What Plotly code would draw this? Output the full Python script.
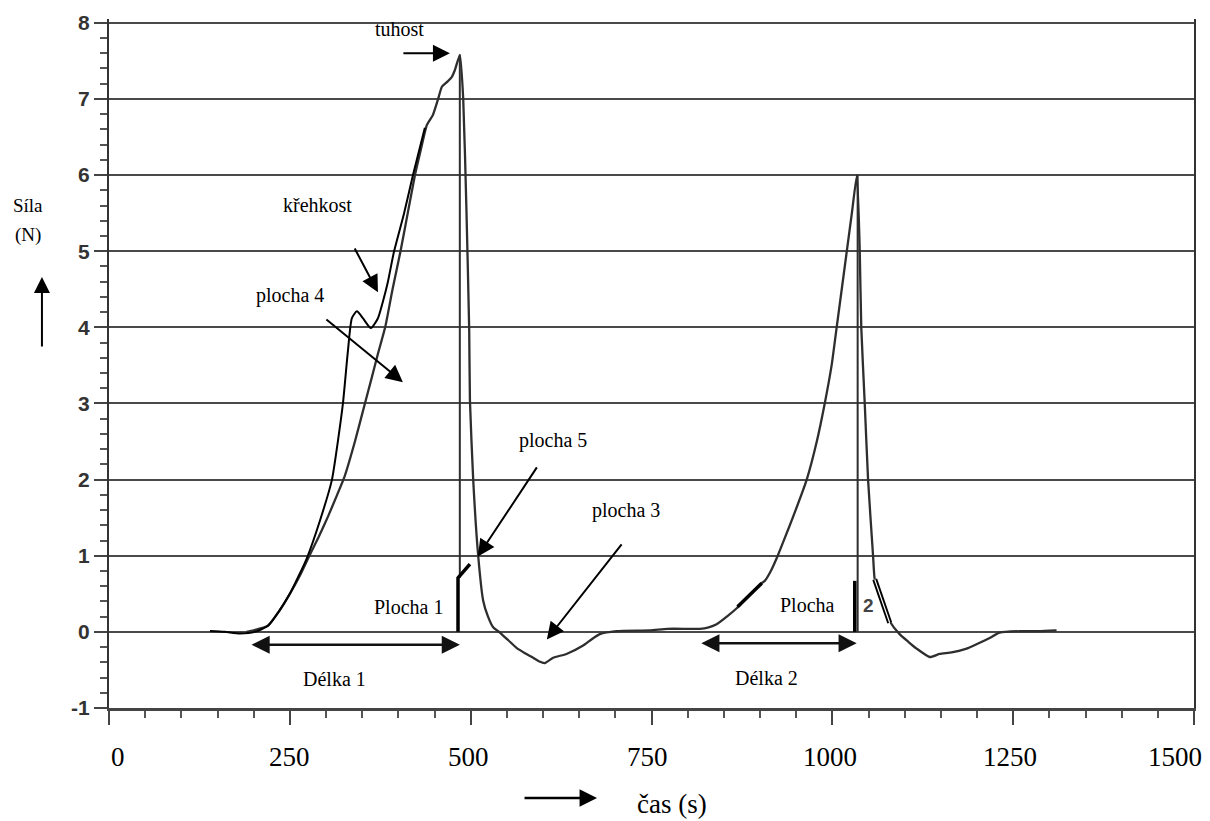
import plotly.graph_objects as go

# ---------------- data ----------------
# main recorded force curve (time s, force N)
main_t = [190, 200, 219.7, 235, 250, 264, 277, 290, 303, 314.5, 326, 340, 353.8, 363, 372,
          381.8, 392, 403, 413, 423, 431, 439.5, 447.8, 454.7, 460.2, 467, 474, 478.2, 485.1,
          489.7, 494, 498, 499, 503.5, 510.4, 517.3, 524, 531.1, 540.4, 552, 563.4, 575, 586.4,
          595, 602.5, 614, 632.5, 655.5, 667, 678.6, 701.6, 747.7, 772, 800, 816.8, 829, 840,
          855.4, 867.8, 885, 902.4, 906.6, 915, 924.5, 935, 945.3, 964.6, 978.5, 989.5, 999,
          1006, 1013, 1020, 1027, 1034, 1037.9, 1040, 1044.8, 1049.4, 1056.3, 1058.6, 1068,
          1079.3, 1093, 1105, 1116.6, 1134.6, 1148.4, 1165, 1185.7, 1200, 1217.5, 1231.3,
          1260, 1285, 1310]
main_f = [0.0, 0.02, 0.08, 0.27, 0.5, 0.74, 1.0, 1.25, 1.52, 1.78, 2.05, 2.5, 3.0, 3.33, 3.66,
          4.0, 4.5, 5.0, 5.5, 6.0, 6.33, 6.66, 6.79, 6.99, 7.16, 7.22, 7.29, 7.38, 7.58,
          7.0, 5.6, 3.95, 3.04, 2.0, 1.0, 0.41, 0.2, 0.06, -0.01, -0.11, -0.21, -0.28, -0.34,
          -0.39, -0.41, -0.34, -0.29, -0.18, -0.1, -0.03, 0.01, 0.02, 0.04, 0.04, 0.04, 0.06, 0.10,
          0.21, 0.31, 0.48, 0.64, 0.67, 0.8, 1.0, 1.25, 1.5, 2.0, 2.5, 3.0, 3.5,
          4.0, 4.5, 5.0, 5.5, 6.0, 5.0, 4.0, 3.0, 2.0, 1.0, 0.69, 0.4,
          0.14, -0.03, -0.13, -0.22, -0.33, -0.29, -0.27, -0.22, -0.16, -0.08, -0.01,
          0.01, 0.01, 0.02]

# hand-drawn "křehkost" curve
krehkost_t = [139.6, 160, 181, 201.6, 219.7, 235, 250, 262, 273.6, 291.6, 308, 316.5, 323.4,
              330.3, 335.8, 342.7, 351, 362, 371.8, 378.7, 385.6, 393.9, 407.7, 420, 428.4, 436.7]
krehkost_f = [0.01, 0.0, -0.02, 0.0, 0.08, 0.27, 0.5, 0.73, 0.97, 1.46, 1.99, 2.51, 3.0,
              3.69, 4.12, 4.21, 4.12, 3.99, 4.12, 4.34, 4.6, 4.99, 5.49, 5.99, 6.31, 6.62]

# thin vertical drop lines from the peaks
drop1_t = [485, 485]
drop1_f = [7.58, 0.71]
drop2_t = [1035, 1035]
drop2_f = [6.0, 0.0]

# thick black marks (area borders)
bar1_t = [482.5, 482.5, 499]
bar1_f = [0.0, 0.71, 0.89]
bar2_t = [1031, 1031]
bar2_f = [0.0, 0.67]
dash_t = [869, 902.4]
dash_f = [0.33, 0.64]
dbl_t = [1058.6, 1079.3]
dbl_f = [0.69, 0.12]

# arrows: (tail t, tail F, head t, head F)
arrow_tail_t = [404.9, 338.6, 298.5, 592.9, 710.3]
arrow_tail_f = [7.60, 5.055, 4.12, 2.18, 1.17]
arrow_head_t = [471.3, 371.8, 406.3, 510.0, 605.3]
arrow_head_f = [7.60, 4.46, 3.28, 0.99, -0.10]

# double arrows (lengths)
delka_start = [195, 816.8]
delka_end = [485.1, 1033.7]
delka_f = [-0.17, -0.15]

# labels
label_text = ["tuhost", "křehkost", "plocha 4", "plocha 5", "plocha 3",
              "Plocha 1", "Délka 1", "Délka 2", "Plocha"]
label_t = [402.2, 288.8, 250.1, 613.6, 715.2, 414.6, 312.3, 909.3, 966.0]
label_f = [7.92, 5.61, 4.42, 2.52, 1.59, 0.33, -0.62, -0.61, 0.35]

x_ticks = [0, 250, 500, 750, 1000, 1250, 1500]
x_tick_labels = ["0", "250", "500", "750", "1000", "1250", "1500"]
x_label_pos = [12.4, 250.1, 497.5, 744.9, 996.4, 1245.2, 1473.2]   # where the labels sit
y_ticks = [-1, 0, 1, 2, 3, 4, 5, 6, 7, 8]

# white cover boxes (t0, t1, F0, F1)
cover_t0 = [340, 336, 869, 902]
cover_t1 = [506, 506, 1031, 1103]
cover_f0 = [7.85, 0.0, 0.0, 6.0]
cover_f1 = [8.2, 0.3, 0.34, 6.05]

# ---------------- figure ----------------
SERIF = "Liberation Serif, Times New Roman, serif"
SANS = "Liberation Sans, Arial, sans-serif"
GREY = "#2e2e2e"

fig = go.Figure()

fig.add_trace(go.Scatter(x=main_t, y=main_f, mode="lines",
                         line=dict(color=GREY, width=2.3, shape="spline", smoothing=0.5)))
fig.add_trace(go.Scatter(x=drop1_t, y=drop1_f, mode="lines", line=dict(color=GREY, width=2)))
fig.add_trace(go.Scatter(x=drop2_t, y=drop2_f, mode="lines", line=dict(color=GREY, width=2)))
fig.add_trace(go.Scatter(x=krehkost_t, y=krehkost_f, mode="lines",
                         line=dict(color="black", width=2, shape="spline", smoothing=0.6)))
fig.add_trace(go.Scatter(x=bar1_t, y=bar1_f, mode="lines", line=dict(color="black", width=3.5)))
fig.add_trace(go.Scatter(x=bar2_t, y=bar2_f, mode="lines", line=dict(color="black", width=3.5)))
fig.add_trace(go.Scatter(x=dash_t, y=dash_f, mode="lines", line=dict(color="black", width=3.5)))
fig.add_trace(go.Scatter(x=dbl_t, y=dbl_f, mode="lines", line=dict(color="black", width=5)))
fig.add_trace(go.Scatter(x=dbl_t, y=dbl_f, mode="lines", line=dict(color="white", width=1.2)))

shapes = []
for a, b, c, d in zip(cover_t0, cover_t1, cover_f0, cover_f1):
    shapes.append(dict(type="rect", xref="x", yref="y", x0=a, x1=b, y0=c, y1=d,
                       fillcolor="white", line=dict(width=0), layer="below"))

C = dict(xanchor="center", yanchor="middle")
ann = []
for tt, ft, th, fh in zip(arrow_tail_t, arrow_tail_f, arrow_head_t, arrow_head_f):
    ann.append(dict(x=th, y=fh, ax=tt, ay=ft, xref="x", yref="y", axref="x", ayref="y",
                    showarrow=True, arrowhead=2, arrowsize=1.7, arrowwidth=2,
                    arrowcolor="black", text="", standoff=0))
for s, e, f in zip(delka_start, delka_end, delka_f):
    ann.append(dict(x=e, y=f, ax=s, ay=f, xref="x", yref="y", axref="x", ayref="y",
                    showarrow=True, arrowhead=2, arrowsize=1.45, arrowwidth=2.5,
                    arrowside="end+start", arrowcolor="#111", text="", standoff=0))
for txt, tt, ff in zip(label_text, label_t, label_f):
    ann.append(dict(x=tt, y=ff, xref="x", yref="y", text=txt, showarrow=False,
                    font=dict(family=SERIF, size=20, color="black"), **C))
ann.append(dict(x=1050.3, y=0.34, xref="x", yref="y", text="2", showarrow=False,
                font=dict(family=SANS, size=19, color="#444", weight="bold"), **C))

# x tick labels
for txt, pos in zip(x_tick_labels, x_label_pos):
    ann.append(dict(x=pos, y=-0.0711, xref="x", yref="paper", text=txt, showarrow=False,
                    font=dict(family=SERIF, size=27, color="black"), **C))

# axis titles
ann.append(dict(x=-0.0747, y=0.730, xref="paper", yref="paper", text="Síla", showarrow=False,
                font=dict(family=SERIF, size=19, color="black"), **C))
ann.append(dict(x=-0.0747, y=0.6865, xref="paper", yref="paper", text="(N)", showarrow=False,
                font=dict(family=SERIF, size=19, color="black"), **C))
ann.append(dict(x=-0.0618, y=0.6255, xref="paper", yref="paper", ax=0, ay=71, text="",
                showarrow=True, arrowhead=2, arrowsize=1.6, arrowwidth=2, arrowcolor="black",
                standoff=0))
ann.append(dict(x=0.4498, y=-0.1306, xref="paper", yref="paper", ax=-74, ay=0, text="",
                showarrow=True, arrowhead=2, arrowsize=1.4, arrowwidth=2.5, arrowcolor="black",
                standoff=0))
ann.append(dict(x=0.5189, y=-0.1393, xref="paper", yref="paper", text="čas (s)",
                showarrow=False, font=dict(family=SERIF, size=27, color="black"), **C))

fig.update_layout(
    width=1202, height=813,
    margin=dict(l=101, r=16, t=11, b=113, autoexpand=False),
    paper_bgcolor="white", plot_bgcolor="white",
    showlegend=False,
    shapes=shapes, annotations=ann,
    xaxis=dict(range=[0, 1500], tickvals=x_ticks, showticklabels=False, automargin=False,
               showgrid=False, zeroline=False, showline=True, linecolor="#444", linewidth=2.5,
               ticks="outside", ticklen=14, tickwidth=2, tickcolor="#444",
               minor=dict(dtick=50, ticks="outside", ticklen=7, tickwidth=1.5, tickcolor="#555",
                          showgrid=False)),
    yaxis=dict(range=[-1, 8.05], tickvals=y_ticks, ticktext=[str(v) for v in y_ticks],
               automargin=False,
               showgrid=True, gridcolor="#4a4a4a", gridwidth=2, zeroline=False,
               showline=True, linecolor="#333", linewidth=2, mirror=True,
               ticks="outside", ticklen=13, tickwidth=2, tickcolor="#444",
               tickfont=dict(family=SANS, size=21, color="#333", weight="bold"),
               minor=dict(dtick=0.2, ticks="outside", ticklen=7, tickwidth=1.5, tickcolor="#555",
                          showgrid=False)),
)

fig.write_html("out.html")
